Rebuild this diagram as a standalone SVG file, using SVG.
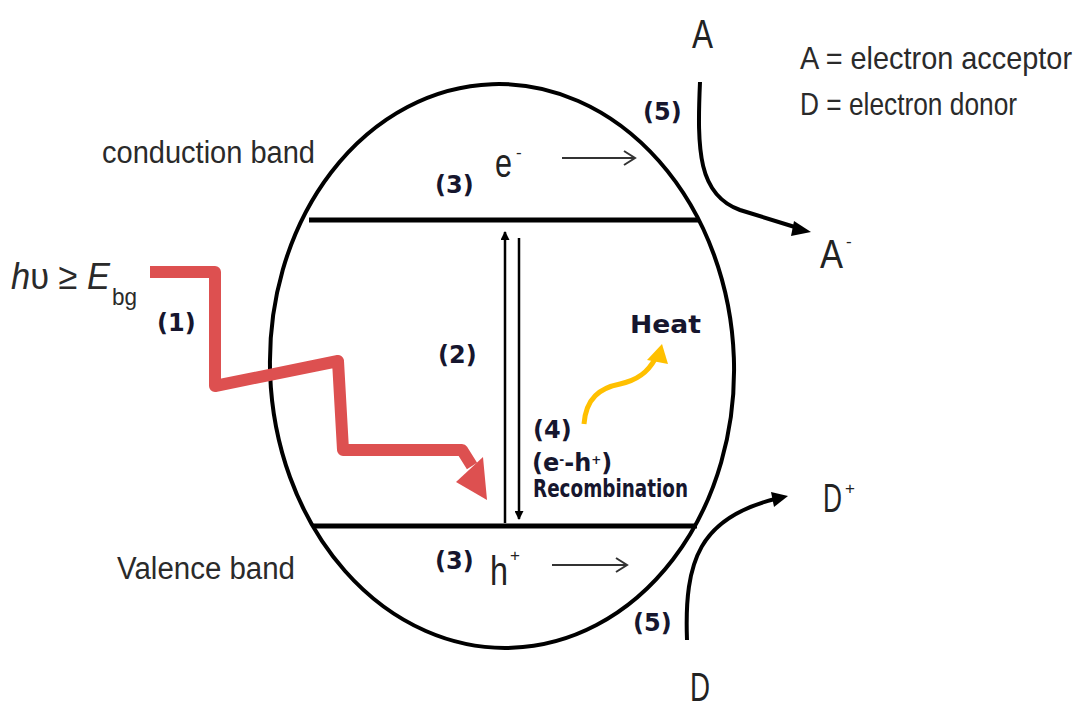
<svg xmlns="http://www.w3.org/2000/svg" width="1084" height="708" viewBox="0 0 1084 708">
<style>
.lbl{font-family:"Liberation Sans",Arial,sans-serif;fill:#2a2a2a}
.big{font-family:"Liberation Sans",Arial,sans-serif;font-size:40px;fill:#222}
.sup{font-family:"Liberation Sans",Arial,sans-serif;font-size:17px;fill:#222}
.num{font-family:"DejaVu Sans",Verdana,sans-serif;font-weight:bold;font-size:24px;fill:#16162e}
.blk{stroke:#000;fill:none;stroke-width:4}
.thin{stroke:#333;fill:none;stroke-width:2}
</style>
<defs>
<marker id="tri" viewBox="0 0 10 10" refX="9" refY="5" markerWidth="12" markerHeight="9" markerUnits="userSpaceOnUse" orient="auto">
<path d="M0,0 L10,5 L0,10 z" fill="#000"/>
</marker>
</defs>
<rect width="1084" height="708" fill="#fff"/>

<g id="particle">
<ellipse cx="502" cy="366" rx="232" ry="282" transform="rotate(-2 502 366)" class="blk"/>
</g>
<g id="conduction-band">
<line x1="309" y1="220" x2="698" y2="220" stroke="#000" stroke-width="5"/>
<text class="lbl" x="102" y="163" font-size="31" textLength="213" lengthAdjust="spacingAndGlyphs">conduction band</text>
</g>
<g id="valence-band">
<line x1="313" y1="526" x2="697" y2="526" stroke="#000" stroke-width="5"/>
<text class="lbl" x="117" y="579" font-size="31" textLength="178" lengthAdjust="spacingAndGlyphs">Valence band</text>
</g>

<g id="photon">
<text class="lbl" x="11" y="289" font-size="37" fill="#222" textLength="99" lengthAdjust="spacingAndGlyphs"><tspan font-style="italic">h</tspan>υ ≥ <tspan font-style="italic">E</tspan></text>
<text class="lbl" x="112" y="305" font-size="24" fill="#222" textLength="25" lengthAdjust="spacingAndGlyphs">bg</text>
<text class="num" x="157" y="331">(1)</text>
</g>

<g id="electron">
<text class="num" x="435" y="193">(3)</text>
<text class="big" x="495" y="177" textLength="17" lengthAdjust="spacingAndGlyphs">e</text>
<text class="sup" x="516" y="158">-</text>
</g>
<g id="hole">
<text class="num" x="435" y="569">(3)</text>
<text class="big" x="490" y="585" textLength="18" lengthAdjust="spacingAndGlyphs">h</text>
<text class="sup" x="510" y="561">+</text>
</g>
<g id="excitation"><text class="num" x="438" y="363">(2)</text></g>
<g id="recombination">
<text class="num" x="533" y="438" font-size="27">(4)</text>
<text class="num" x="532" y="471" font-size="18">(e<tspan font-size="12" dy="-7">-</tspan><tspan dy="7">-h</tspan><tspan font-size="12" dy="-7">+</tspan><tspan dy="7">)</tspan></text>
<text class="num" x="533" y="497" font-size="16" textLength="155" lengthAdjust="spacingAndGlyphs">Recombination</text>
</g>
<g id="heat"><text class="num" x="630" y="333" font-size="24" textLength="71" lengthAdjust="spacingAndGlyphs">Heat</text></g>

<g id="acceptor">
<text class="big" x="692" y="48" textLength="21" lengthAdjust="spacingAndGlyphs">A</text>
<text class="big" x="820" y="268" textLength="23" lengthAdjust="spacingAndGlyphs">A</text>
<text class="sup" x="846" y="247">-</text>
<text class="num" x="643" y="120">(5)</text>
</g>
<g id="donor">
<text class="big" x="690" y="701" textLength="20" lengthAdjust="spacingAndGlyphs">D</text>
<text class="big" x="823" y="512" textLength="19" lengthAdjust="spacingAndGlyphs">D</text>
<text class="sup" x="845" y="494">+</text>
<text class="num" x="633" y="631">(5)</text>
</g>
<g id="legend">
<text class="lbl" x="800" y="69" font-size="32" textLength="272" lengthAdjust="spacingAndGlyphs">A = electron acceptor</text>
<text class="lbl" x="800" y="115" font-size="32" textLength="217" lengthAdjust="spacingAndGlyphs">D = electron donor</text>
</g>

<g id="connectors">
<path d="M150,272 L215,272 L215,386 L338,361 L343,450 L462,450 L472,466" fill="none" stroke="#dd5050" stroke-width="12" stroke-linejoin="round"/>
<polygon points="487,500 456,482 483,457" fill="#dd5050"/>
<line x1="505" y1="523" x2="505" y2="232" stroke="#000" stroke-width="2.5" marker-end="url(#tri)"/>
<line x1="519" y1="238" x2="519" y2="519" stroke="#000" stroke-width="2.5" marker-end="url(#tri)"/>
<path d="M584,424 C586,398 600,388 620,384 C638,380 648,372 655,359" fill="none" stroke="#ffc000" stroke-width="5"/>
<polygon points="662,344 647,360 668,364" fill="#ffc000"/>
<path d="M562,158 L635,158 M624,151 L635,158 L624,165" class="thin"/>
<path d="M552,565 L627,565 M616,558 L627,565 L616,572" class="thin"/>
<path d="M700,82 C697,150 698,195 740,210 L798,228" class="blk"/>
<polygon points="811,232 794,221 791,236" fill="#000"/>
<path d="M687,640 C684,560 700,518 775,499" class="blk"/>
<polygon points="788,496 771,492 774,507" fill="#000"/>
</g>
</svg>
